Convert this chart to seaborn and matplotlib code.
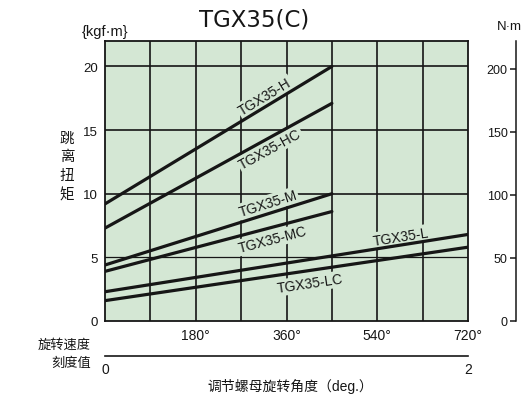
import numpy as np
import pandas as pd
import matplotlib
matplotlib.use("Agg")
import matplotlib.pyplot as plt
import seaborn as sns

# =========================================
# Data
# =========================================

models = ["TGX35-H", "TGX35-HC", "TGX35-M", "TGX35-MC", "TGX35-L", "TGX35-LC"]
angle_start = [0, 0, 0, 0, 0, 0]
angle_end = [450, 450, 450, 450, 720, 720]
torque_start = [9.2, 7.3, 4.4, 3.9, 2.3, 1.6]
torque_end = [20.0, 17.1, 10.0, 8.6, 6.8, 5.8]

x_ticks = [180, 360, 540, 720]
x_tick_labels = ["180°", "360°", "540°", "720°"]
y_ticks = [0, 5, 10, 15, 20]
nm_ticks = [0, 50, 100, 150, 200]
rev_ticks = np.arange(13) / 6
rev_labels = ["0"] + [""] * 11 + ["2"]

# label placement: angle on the line, vertical offset (px), + above / - below
label_at = [317, 327, 323, 333, 587, 407]
label_off = [10.5, -11, 10.5, -12, 8.5, -13]

rows = []
for m, a0, a1, t0, t1 in zip(models, angle_start, angle_end, torque_start, torque_end):
    rows.append({"model": m, "angle": a0, "torque": t0})
    rows.append({"model": m, "angle": a1, "torque": t1})
df = pd.DataFrame(rows)

# =========================================
# Style
# =========================================

sns.set_theme(style="white")
plt.rcParams["font.family"] = ["Liberation Sans", "Noto Sans CJK SC", "DejaVu Sans"]
plt.rcParams["axes.unicode_minus"] = False

bg = "#d4e7d4"
ink = "#161616"

fig = plt.figure(figsize=(5.3, 4.1), dpi=100)
ax = fig.add_axes([105 / 530, 1 - 322 / 410, 363 / 530, 280 / 410])
ax.set_facecolor(bg)

# grid
for gx in range(90, 720, 90):
    ax.axvline(gx, color=ink, lw=1.2, zorder=1)
for gy in [5, 10, 15, 20]:
    ax.axhline(gy, color=ink, lw=1.2 if gy != 5 else 0.9, zorder=1)

sns.lineplot(data=df, x="angle", y="torque", units="model", estimator=None,
             color=ink, lw=2.3, ax=ax, zorder=4, legend=False)

ax.set_xlim(0, 720)
ax.set_ylim(0, 22)
ax.set_xticks(x_ticks)
ax.set_xticklabels(x_tick_labels, fontsize=10)
ax.set_yticks(y_ticks)
ax.set_yticklabels([str(v) for v in y_ticks], fontsize=9.5)
ax.tick_params(axis="both", length=0, pad=5, colors=ink)
ax.set_xlabel("")
ax.set_ylabel("")
for s in ax.spines.values():
    s.set_color(ink)
    s.set_linewidth(1.3)

# line labels, rotated along each line
for m, a0, a1, t0, t1, lx, off in zip(models, angle_start, angle_end,
                                      torque_start, torque_end, label_at, label_off):
    p0 = ax.transData.transform((a0, t0))
    p1 = ax.transData.transform((a1, t1))
    rot = np.degrees(np.arctan2(p1[1] - p0[1], p1[0] - p0[0]))
    ly = t0 + (t1 - t0) * (lx - a0) / (a1 - a0)
    ax.annotate(m, xy=(lx, ly), xytext=(0, off * 0.72), textcoords="offset points",
                ha="center", va="center", rotation=rot, fontsize=10, color=ink,
                zorder=3, bbox=dict(boxstyle="square,pad=0.1", fc=bg, ec="none"))

# right N·m scale
ax2 = ax.twinx()
ax2.set_ylim(0, 222)
for k in ["top", "bottom", "right"]:
    ax2.spines[k].set_visible(False)
ax2.spines["left"].set_position(("axes", 1.132))
ax2.spines["left"].set_color(ink)
ax2.spines["left"].set_linewidth(1.1)
ax2.yaxis.tick_left()
ax2.set_yticks(nm_ticks)
ax2.set_yticklabels([str(v) for v in nm_ticks], fontsize=9)
ax2.tick_params(axis="y", length=4.5, width=1.1, pad=1.5, colors=ink)
ax2.grid(False)
ax2.set_ylabel("")

# revolution scale under the chart
ax3 = fig.add_axes([105 / 530, 1 - 357 / 410, 363 / 530, 0.001])
ax3.set_facecolor("none")
for k in ["top", "left", "right"]:
    ax3.spines[k].set_visible(False)
ax3.spines["bottom"].set_color(ink)
ax3.spines["bottom"].set_linewidth(1.2)
ax3.set_xlim(0, 2)
ax3.set_yticks([])
ax3.set_xticks(rev_ticks)
ax3.set_xticklabels(rev_labels, fontsize=10)
ax3.tick_params(axis="x", direction="in", length=3.8, width=1.1, pad=4, colors=ink)

# texts
fig.text(254 / 530, 1 - 20 / 410, "TGX35(C)", fontsize=16.5, family="DejaVu Sans",
         ha="center", va="center", color=ink)
fig.text(105 / 530, 1 - 32 / 410, "{kgf·m}", fontsize=10.5, ha="center", va="center", color=ink)
fig.text(509 / 530, 1 - 27 / 410, "N·m", fontsize=9.5, ha="center", va="center", color=ink)
fig.text(67 / 530, 1 - 167 / 410, "跳\n离\n扭\n矩", fontsize=10.5, linespacing=1.45,
         ha="center", va="center", color=ink)
fig.text(91 / 530, 1 - 345 / 410, "旋转速度", fontsize=9.5, ha="right", va="center", color=ink)
fig.text(91 / 530, 1 - 363.5 / 410, "刻度值", fontsize=9.5, ha="right", va="center", color=ink)
fig.text(290 / 530, 1 - 387 / 410, "调节螺母旋转角度（deg.）", fontsize=10,
         ha="center", va="center", color=ink)

fig.savefig("out.png", dpi=100)
